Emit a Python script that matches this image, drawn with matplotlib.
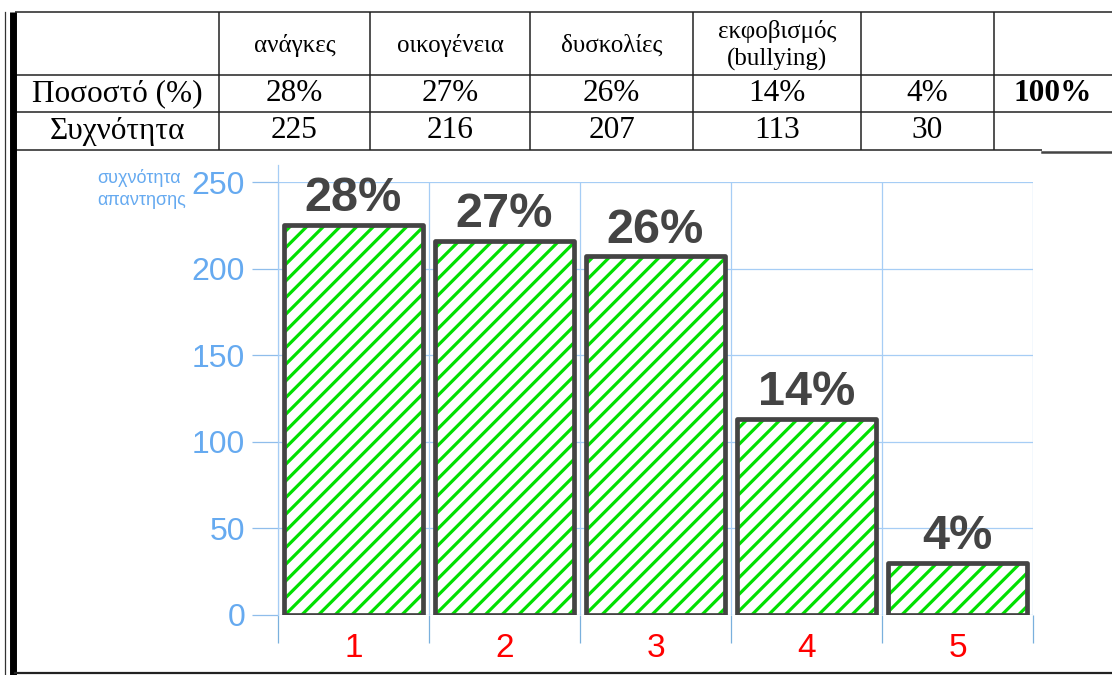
import matplotlib.pyplot as plt
import numpy as np

# data
headers = ['ανάγκες', 'οικογένεια', 'δυσκολίες', 'εκφοβισμός\n(bullying)', '', '']
row_names = ['Ποσοστό (%)', 'Συχνότητα']
percents = [28, 27, 26, 14, 4]
freqs = [225, 216, 207, 113, 30]
total = '100%'
cats = ['1', '2', '3', '4', '5']
yticks = [0, 50, 100, 150, 200, 250]

plt.rcParams['font.family'] = ['Liberation Sans', 'DejaVu Sans']
plt.rcParams['hatch.linewidth'] = 2.3

W, H = 1112, 675
fig = plt.figure(figsize=(W / 100, H / 100), dpi=100)

# background layer in pixel units for the table and frame
bg = fig.add_axes([0, 0, 1, 1])
bg.set_xlim(0, W)
bg.set_ylim(H, 0)
bg.axis('off')

col_x = [15, 219, 370, 530, 693, 861, 994, W]
row_y = [12, 75, 112, 150]
lk = dict(color='#222222', lw=1.1, solid_capstyle='butt')
for y in row_y[:-1]:
    bg.plot([15, W], [y, y], **lk)
bg.plot([15, 1042], [row_y[-1], row_y[-1]], **lk)
bg.plot([1042, W], [151.5, 151.5], color='#444444', lw=1.8)
for xx in col_x[1:-1]:
    bg.plot([xx, xx], [row_y[0], row_y[-1]], **lk)
# left double border and bottom rule
bg.plot([5, 5], [12, H], color='#333333', lw=0.9)
bg.plot([12.5, 12.5], [12, H], color='black', lw=5, solid_capstyle='butt')
bg.plot([15, W], [673, 673], color='#222222', lw=1.6)

serif = 'Liberation Serif'
cx = [(a + b) / 2 for a, b in zip(col_x[:-1], col_x[1:])]
ry = [(a + b) / 2 for a, b in zip(row_y[:-1], row_y[1:])]
for i, h in enumerate(headers):
    bg.text(cx[i + 1], ry[0] + 2, h, ha='center', va='center', fontsize=18,
            family=serif, linespacing=1.3)
bg.text(cx[0], ry[1], row_names[0], ha='center', va='center', fontsize=22.5, family=serif)
bg.text(cx[0], ry[2], row_names[1], ha='center', va='center', fontsize=22.5, family=serif)
for i, (p, f) in enumerate(zip(percents, freqs)):
    bg.text(cx[i + 1], ry[1], f'{p}%', ha='center', va='center', fontsize=22.5, family=serif)
    bg.text(cx[i + 1], ry[2], str(f), ha='center', va='center', fontsize=22.5, family=serif)
bg.text(cx[-1], ry[1], total, ha='center', va='center', fontsize=22.5, family=serif,
        fontweight='bold')

# y axis caption
bg.text(97, 189, 'συχνότητα\nαπαντησης', ha='left', va='center', fontsize=13,
        color='#66aaf0', linespacing=1.45)

# bar chart
grid_c = '#a6cdf5'
ax = fig.add_axes([278 / W, 60 / H, 755 / W, 433 / H])
x = np.arange(1, len(freqs) + 1)
ax.bar(x, freqs, width=0.92, facecolor='white', edgecolor='#00e000', hatch='//', lw=0, zorder=2)
ax.bar(x, freqs, width=0.92, facecolor='none', edgecolor='#444444', lw=3.4, zorder=3,
       joinstyle='round')
for xi, f, p in zip(x, freqs, percents):
    ax.annotate(f'{p}%', (xi, f), xytext=(0, 10), textcoords='offset points', ha='center',
                va='baseline', fontsize=35, fontweight='bold', color='#444444',
                annotation_clip=False)

ax.set_xlim(0.5, len(freqs) + 0.5)
ax.set_ylim(0, 250)
for s in ax.spines.values():
    s.set_visible(False)
ax.set_yticks(yticks)
ax.tick_params(axis='y', length=18.7, width=0.9, color='#8fbdeb', labelcolor='#66aaf0',
               labelsize=23, pad=5)
ax.yaxis.grid(True, color=grid_c, lw=0.9)
ax.set_xticks(x)
ax.set_xticklabels(cats)
ax.tick_params(axis='x', which='major', length=0, labelcolor='red', labelsize=24, pad=13)
ax.set_xticks(np.arange(0.5, len(freqs) + 1, 1), minor=True)
ax.tick_params(axis='x', which='minor', length=20, width=0.9, color='#7ab0dd')
ax.xaxis.grid(True, which='minor', color=grid_c, lw=0.9)
ax.axvline(0.5, 0, 1.04, color=grid_c, lw=0.9, clip_on=False)
ax.set_axisbelow(True)

fig.savefig('out.png', dpi=100)
